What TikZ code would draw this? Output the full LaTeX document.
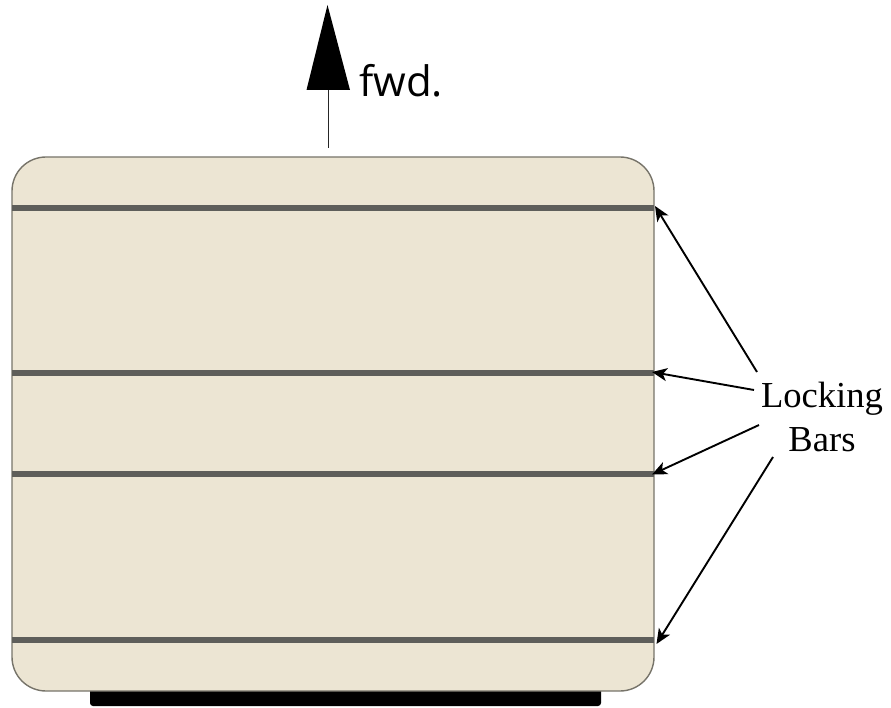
\documentclass[tikz,border=0pt]{standalone}
\usepackage{fontspec}
\setmainfont{Liberation Serif}
\newfontfamily\fwdfont{Open Sans}
\usetikzlibrary{arrows.meta}
\definecolor{bodyfill}{HTML}{ECE5D3}
\definecolor{bodyline}{HTML}{77746A}
\definecolor{barcol}{HTML}{5E5E5A}
\tikzset{
  x=1pt,y=-1pt,
  lockbar/.style={draw=barcol,line width=6.2pt},
  pointer/.style={draw=black,line width=1.9pt,-{Stealth[length=15pt,width=13pt,inset=4pt]}},
  lbl/.style={inner sep=0pt,font=\fontsize{36.6pt}{44pt}\selectfont,align=center,text=black},
}
\begin{document}
\begin{tikzpicture}
\useasboundingbox (0,0) rectangle (891,708);
% base bar
\fill[black,rounded corners=3pt] (90,680) rectangle (601,706);
% body
\draw[draw=bodyline,line width=1.4pt,fill=bodyfill,rounded corners=34pt] (12,157) rectangle (654,691);
% locking bars
\foreach \n/\y in {a/208,b/373,c/474,d/640}{
  \coordinate (\n L) at (12,\y);
  \coordinate (\n R) at (653.5,\y);
  \draw[lockbar] (\n L) -- (\n R);
}
% forward arrow
\coordinate (stemB) at (328.3,148);
\coordinate (stemT) at (328.3,90);
\coordinate (apex) at (327.5,5);
\coordinate (baseL) at (306.5,90);
\coordinate (baseR) at (350,90);
\draw[line width=1.1pt,draw=black!85] (stemB) -- (stemT);
\fill[black] (apex) -- (baseR) -- (baseL) -- cycle;
\node[inner sep=0pt,anchor=base west,font=\fontsize{42pt}{50pt}\selectfont\fwdfont,text=black] (fwd) at (359,97) {fwd.};
% labels
\node[lbl,anchor=base] (lock) at (822,407.5) {Locking};
\node[lbl,anchor=base] (bars) at (822,451.5) {Bars};
\coordinate (s1) at (757,372);
\coordinate (s2) at (754,390);
\coordinate (s3) at (759,425);
\coordinate (s4) at (773,457);
\coordinate (t1) at (655,206);
\coordinate (t2) at (652,372);
\coordinate (t3) at (652,474.5);
\coordinate (t4) at (656.5,644);
\draw[pointer] (s1) -- (t1);
\draw[pointer] (s2) -- (t2);
\draw[pointer] (s3) -- (t3);
\draw[pointer] (s4) -- (t4);
\end{tikzpicture}
\end{document}
